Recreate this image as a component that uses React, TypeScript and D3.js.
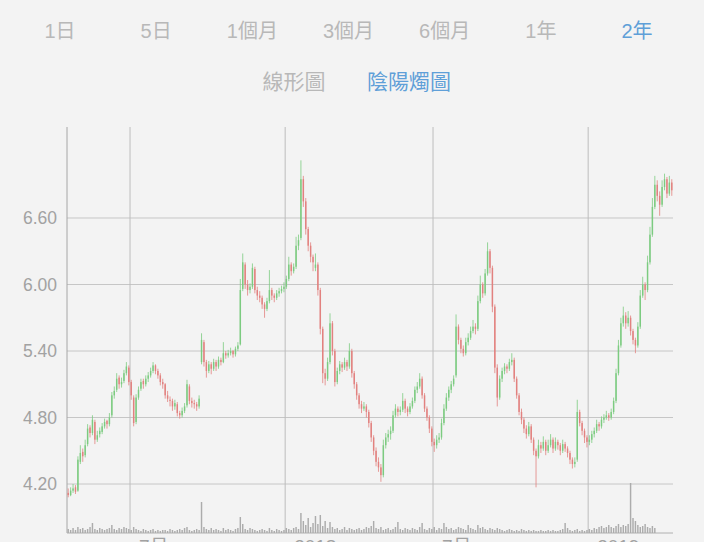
import * as d3 from 'd3';

const periods = ['1日', '5日', '1個月', '3個月', '6個月', '1年', '2年'];
const chartTypes = ['線形圖', '陰陽燭圖'];
const yTicks = [4.2, 4.8, 5.4, 6.0, 6.6];
const monthTicks = [
  { index: 26, label: '7月' },
  { index: 90, label: '2018' },
  { index: 151, label: '7月' },
  { index: 215, label: '2019' },
];

// [open, high, low, close]
const candles: number[][] = [
  [4.12, 4.16, 4.08, 4.10], [4.10, 4.17, 4.09, 4.14], [4.14, 4.20, 4.12, 4.16], [4.17, 4.19, 4.11, 4.13],
  [4.14, 4.45, 4.13, 4.42], [4.40, 4.55, 4.38, 4.48], [4.49, 4.52, 4.40, 4.45], [4.46, 4.60, 4.44, 4.55],
  [4.56, 4.74, 4.54, 4.70], [4.71, 4.73, 4.62, 4.66], [4.66, 4.82, 4.64, 4.78], [4.76, 4.78, 4.56, 4.60],
  [4.60, 4.68, 4.58, 4.64], [4.65, 4.71, 4.62, 4.68], [4.67, 4.75, 4.65, 4.72], [4.72, 4.79, 4.70, 4.76],
  [4.77, 4.78, 4.70, 4.74], [4.74, 4.84, 4.72, 4.80], [4.82, 5.03, 4.80, 5.00], [5.00, 5.08, 4.97, 5.04],
  [5.05, 5.20, 5.03, 5.15], [5.16, 5.18, 5.06, 5.10], [5.10, 5.16, 5.07, 5.12], [5.13, 5.23, 5.11, 5.20],
  [5.20, 5.30, 5.18, 5.26], [5.25, 5.27, 5.09, 5.12], [5.12, 5.14, 4.96, 5.00], [4.98, 5.00, 4.72, 4.75],
  [4.76, 5.01, 4.74, 4.98], [4.98, 5.08, 4.96, 5.05], [5.06, 5.15, 5.04, 5.12], [5.13, 5.15, 5.06, 5.10],
  [5.10, 5.18, 5.08, 5.15], [5.15, 5.21, 5.12, 5.18], [5.18, 5.25, 5.16, 5.22], [5.22, 5.30, 5.20, 5.27],
  [5.27, 5.28, 5.19, 5.22], [5.22, 5.24, 5.15, 5.18], [5.18, 5.20, 5.09, 5.12], [5.12, 5.15, 5.06, 5.10],
  [5.10, 5.11, 4.97, 5.00], [5.00, 5.04, 4.94, 4.97], [4.96, 4.99, 4.90, 4.95], [4.95, 4.97, 4.86, 4.90],
  [4.90, 4.96, 4.87, 4.93], [4.92, 4.94, 4.81, 4.84], [4.84, 4.86, 4.79, 4.82], [4.82, 4.89, 4.80, 4.86],
  [4.86, 4.93, 4.84, 4.90], [4.91, 5.14, 4.89, 5.10], [5.08, 5.10, 4.92, 4.95], [4.95, 4.98, 4.89, 4.93],
  [4.93, 4.96, 4.88, 4.92], [4.92, 4.94, 4.86, 4.90], [4.90, 5.00, 4.88, 4.97], [5.30, 5.56, 5.28, 5.50],
  [5.48, 5.50, 5.26, 5.30], [5.30, 5.32, 5.16, 5.22], [5.22, 5.31, 5.20, 5.28], [5.28, 5.30, 5.19, 5.24],
  [5.24, 5.33, 5.22, 5.30], [5.30, 5.32, 5.22, 5.26], [5.26, 5.35, 5.24, 5.32], [5.32, 5.34, 5.27, 5.30],
  [5.30, 5.48, 5.29, 5.38], [5.38, 5.40, 5.33, 5.36], [5.36, 5.41, 5.34, 5.38], [5.38, 5.43, 5.36, 5.40],
  [5.40, 5.41, 5.34, 5.37], [5.37, 5.44, 5.35, 5.42], [5.42, 5.48, 5.40, 5.45], [5.46, 6.05, 5.45, 5.95],
  [5.96, 6.28, 5.94, 6.20], [6.18, 6.20, 5.96, 6.00], [6.00, 6.04, 5.90, 5.95], [5.95, 6.01, 5.92, 5.98],
  [5.98, 6.19, 5.96, 6.15], [6.14, 6.16, 5.92, 5.95], [5.95, 5.98, 5.86, 5.90], [5.90, 5.94, 5.84, 5.88],
  [5.88, 5.90, 5.78, 5.82], [5.82, 5.84, 5.70, 5.78], [5.78, 5.88, 5.76, 5.85], [5.85, 6.13, 5.83, 5.95],
  [5.95, 5.97, 5.86, 5.90], [5.90, 5.92, 5.84, 5.88], [5.88, 5.95, 5.86, 5.92], [5.92, 5.97, 5.89, 5.94],
  [5.94, 5.99, 5.92, 5.96], [5.96, 6.02, 5.93, 5.98], [5.98, 6.08, 5.96, 6.05], [6.05, 6.25, 6.03, 6.18],
  [6.18, 6.20, 6.08, 6.12], [6.12, 6.19, 6.10, 6.16], [6.16, 6.43, 6.14, 6.35], [6.35, 6.45, 6.31, 6.40],
  [6.42, 7.12, 6.40, 6.95], [6.95, 6.98, 6.70, 6.75], [6.75, 6.78, 6.45, 6.50], [6.50, 6.52, 6.30, 6.35],
  [6.35, 6.38, 6.20, 6.25], [6.25, 6.27, 6.12, 6.20], [6.15, 6.28, 6.12, 6.18], [6.18, 6.20, 5.90, 5.95],
  [5.95, 5.97, 5.55, 5.60], [5.60, 5.62, 5.11, 5.20], [5.20, 5.24, 5.09, 5.15], [5.15, 5.34, 5.13, 5.30],
  [5.30, 5.74, 5.28, 5.65], [5.65, 5.67, 5.36, 5.40], [5.40, 5.42, 5.08, 5.12], [5.12, 5.25, 5.10, 5.22],
  [5.22, 5.31, 5.19, 5.28], [5.28, 5.30, 5.21, 5.25], [5.25, 5.34, 5.23, 5.30], [5.30, 5.32, 5.22, 5.26],
  [5.26, 5.47, 5.24, 5.40], [5.40, 5.42, 5.16, 5.20], [5.20, 5.22, 5.06, 5.10], [5.10, 5.12, 4.96, 5.00],
  [5.00, 5.02, 4.88, 4.92], [4.92, 4.95, 4.84, 4.88], [4.88, 4.94, 4.86, 4.90], [4.90, 4.92, 4.80, 4.85],
  [4.85, 4.87, 4.71, 4.75], [4.75, 4.77, 4.58, 4.62], [4.62, 4.64, 4.46, 4.50], [4.50, 4.53, 4.36, 4.40],
  [4.40, 4.44, 4.31, 4.35], [4.35, 4.38, 4.22, 4.28], [4.28, 4.60, 4.26, 4.55], [4.55, 4.66, 4.52, 4.62],
  [4.62, 4.69, 4.58, 4.65], [4.65, 4.72, 4.60, 4.68], [4.68, 4.86, 4.66, 4.82], [4.82, 4.92, 4.80, 4.88],
  [4.88, 4.90, 4.81, 4.85], [4.85, 4.90, 4.82, 4.87], [4.87, 5.02, 4.85, 4.95], [4.95, 4.97, 4.84, 4.88],
  [4.88, 4.90, 4.81, 4.85], [4.85, 4.93, 4.83, 4.90], [4.90, 4.98, 4.88, 4.95], [4.95, 5.08, 4.93, 5.05],
  [5.05, 5.12, 5.02, 5.08], [5.08, 5.20, 5.06, 5.15], [5.15, 5.17, 4.97, 5.00], [5.00, 5.02, 4.85, 4.88],
  [4.88, 4.90, 4.77, 4.80], [4.80, 4.82, 4.66, 4.70], [4.70, 4.72, 4.54, 4.58], [4.58, 4.61, 4.49, 4.55],
  [4.55, 4.64, 4.52, 4.60], [4.60, 4.66, 4.57, 4.62], [4.62, 4.79, 4.60, 4.75], [4.75, 4.92, 4.73, 4.88],
  [4.88, 5.02, 4.86, 4.98], [4.98, 5.08, 4.95, 5.05], [5.05, 5.13, 5.02, 5.10], [5.10, 5.18, 5.08, 5.15],
  [5.18, 5.73, 5.16, 5.62], [5.62, 5.64, 5.46, 5.50], [5.50, 5.52, 5.38, 5.42], [5.42, 5.45, 5.35, 5.38],
  [5.38, 5.52, 5.36, 5.48], [5.48, 5.56, 5.45, 5.52], [5.52, 5.62, 5.50, 5.58], [5.58, 5.68, 5.56, 5.62],
  [5.62, 5.65, 5.55, 5.60], [5.60, 5.90, 5.58, 5.85], [5.85, 6.08, 5.83, 6.00], [6.00, 6.02, 5.88, 5.92],
  [5.92, 6.14, 5.90, 6.10], [6.10, 6.38, 6.08, 6.30], [6.30, 6.32, 6.10, 6.15], [6.15, 6.17, 5.75, 5.80],
  [5.80, 5.82, 5.20, 5.25], [5.25, 5.28, 4.90, 4.98], [4.98, 5.18, 4.96, 5.15], [5.15, 5.25, 5.12, 5.22],
  [5.22, 5.29, 5.19, 5.26], [5.26, 5.28, 5.20, 5.24], [5.24, 5.33, 5.22, 5.30], [5.30, 5.38, 5.27, 5.32],
  [5.32, 5.34, 5.12, 5.15], [5.15, 5.17, 4.97, 5.00], [5.00, 5.02, 4.82, 4.85], [4.85, 4.88, 4.74, 4.78],
  [4.78, 4.80, 4.66, 4.70], [4.70, 4.73, 4.61, 4.65], [4.65, 4.76, 4.63, 4.72], [4.72, 4.74, 4.57, 4.60],
  [4.60, 4.62, 4.46, 4.50], [4.50, 4.52, 4.17, 4.45], [4.45, 4.60, 4.43, 4.55], [4.55, 4.58, 4.48, 4.52],
  [4.52, 4.63, 4.50, 4.58], [4.58, 4.60, 4.46, 4.50], [4.50, 4.60, 4.48, 4.55], [4.55, 4.65, 4.53, 4.60],
  [4.60, 4.62, 4.48, 4.52], [4.52, 4.62, 4.50, 4.58], [4.58, 4.60, 4.51, 4.55], [4.55, 4.57, 4.46, 4.50],
  [4.50, 4.60, 4.48, 4.56], [4.56, 4.58, 4.49, 4.52], [4.52, 4.54, 4.44, 4.48], [4.48, 4.50, 4.38, 4.42],
  [4.42, 4.44, 4.34, 4.38], [4.38, 4.44, 4.35, 4.40], [4.42, 4.96, 4.40, 4.85], [4.85, 4.87, 4.72, 4.75],
  [4.75, 4.77, 4.64, 4.68], [4.68, 4.70, 4.57, 4.62], [4.62, 4.64, 4.53, 4.58], [4.58, 4.64, 4.55, 4.60],
  [4.60, 4.68, 4.57, 4.65], [4.65, 4.71, 4.62, 4.68], [4.68, 4.78, 4.66, 4.74], [4.74, 4.76, 4.68, 4.72],
  [4.72, 4.81, 4.70, 4.78], [4.78, 4.83, 4.75, 4.80], [4.80, 4.86, 4.78, 4.82], [4.82, 4.84, 4.77, 4.80],
  [4.80, 4.88, 4.78, 4.85], [4.85, 4.98, 4.83, 4.95], [4.95, 5.24, 4.93, 5.20], [5.20, 5.50, 5.18, 5.45],
  [5.45, 5.70, 5.43, 5.65], [5.65, 5.80, 5.62, 5.72], [5.72, 5.75, 5.60, 5.65], [5.65, 5.76, 5.62, 5.70],
  [5.70, 5.72, 5.54, 5.58], [5.58, 5.60, 5.46, 5.50], [5.50, 5.52, 5.38, 5.45], [5.45, 5.66, 5.43, 5.62],
  [5.62, 5.95, 5.60, 5.90], [5.90, 6.07, 5.88, 6.00], [6.00, 6.02, 5.86, 5.95], [5.95, 6.26, 5.93, 6.20],
  [6.20, 6.52, 6.18, 6.45], [6.45, 6.78, 6.43, 6.70], [6.70, 6.98, 6.68, 6.90], [6.90, 6.94, 6.75, 6.80],
  [6.80, 6.84, 6.62, 6.72], [6.72, 6.94, 6.70, 6.88], [6.88, 7.00, 6.85, 6.95], [6.95, 6.97, 6.78, 6.82],
  [6.82, 6.98, 6.80, 6.92], [6.92, 6.95, 6.80, 6.85],
];

// volume, millions of shares
const volumes = [
  4, 3, 5, 3, 6, 4, 5, 3, 4, 6, 10, 4, 3, 5, 4, 3, 4, 5, 8, 4, 3, 5, 4, 6, 5, 4,
  3, 6, 4, 3, 2, 4, 3, 2, 3, 4, 2, 3, 2, 3, 3, 2, 4, 3, 2, 3, 4, 3, 5, 6, 3, 2, 3, 4,
  3, 31, 6, 4, 3, 5, 3, 4, 3, 2, 5, 3, 4, 3, 2, 4, 5, 16, 9, 4, 3, 5, 4, 3, 2, 3, 4,
  3, 2, 5, 3, 2, 4, 3, 2, 3, 5, 4, 3, 5, 6, 4, 20, 12, 8, 15, 6, 10, 17, 9, 18, 7,
  12, 5, 11, 6, 4, 5, 3, 4, 6, 3, 5, 4, 3, 4, 5, 3, 4, 6, 5, 7, 12, 5, 4, 6, 3, 4,
  5, 3, 4, 6, 11, 4, 3, 5, 4, 3, 5, 4, 3, 6, 10, 4, 3, 5, 4, 6, 3, 5, 4, 10, 6, 4,
  5, 3, 4, 6, 5, 4, 3, 8, 5, 4, 3, 8, 5, 6, 4, 3, 5, 4, 3, 5, 4, 3, 2, 3, 4, 3, 2,
  3, 2, 4, 3, 2, 3, 2, 3, 2, 2, 3, 2, 2, 3, 2, 3, 2, 2, 3, 4, 10, 5, 3, 2, 3, 4, 2,
  3, 2, 3, 4, 3, 5, 4, 6, 7, 5, 6, 8, 6, 5, 7, 9, 6, 8, 7, 9, 50, 15, 12, 8, 6, 7,
  9, 6, 5, 7, 5,
];

const W = 704;
const H = 542;
const left = 67;
const right = 673;
const top = 127;
const bottom = 533;
const font = '"Liberation Sans", "Noto Sans CJK TC", sans-serif';

export default function App() {
  const x = d3.scaleLinear().domain([0, candles.length]).range([left, right]);
  const y = d3.scaleLinear().domain([3.758, 7.421]).range([bottom, top]);
  const v = d3.scaleLinear().domain([0, 50]).range([bottom, bottom - 50]);
  const tabX = d3.scalePoint<string>().domain(periods).range([60, 637]);
  const typeX = d3.scalePoint<string>().domain(chartTypes).range([294, 409]);
  const step = x(1) - x(0);
  const bodyW = step * 0.6;

  return (
    <div style={{ position: 'absolute', left: 0, top: 0 }}>
      <svg width={W} height={H} style={{ display: 'block', fontFamily: font }}>
        <rect width={W} height={H} fill="#f3f3f3" />

        {periods.map((p) => (
          <text key={p} x={tabX(p)} y={38} fontSize={20} textAnchor="middle"
            fill={p === '2年' ? '#5f9fd8' : '#b8b8b8'}>{p}</text>
        ))}
        {chartTypes.map((t) => (
          <text key={t} x={typeX(t)} y={89} fontSize={21} textAnchor="middle"
            fill={t === '陰陽燭圖' ? '#5f9fd8' : '#b8b8b8'}>{t}</text>
        ))}

        {yTicks.map((t) => (
          <g key={t}>
            <line x1={left} x2={right} y1={y(t)} y2={y(t)} stroke="#c6c6c6" strokeWidth={1} />
            <text x={57} y={y(t)} dy="0.36em" fontSize={17.5} textAnchor="end" fill="#a2a2a2">
              {d3.format('.2f')(t)}
            </text>
          </g>
        ))}

        {monthTicks.map((m) => (
          <g key={m.index}>
            <line x1={x(m.index)} x2={x(m.index)} y1={top} y2={bottom} stroke="#bdbdbd" strokeWidth={1} />
            <text x={x(m.index) + 9} y={553} fontSize={19} fill="#a2a2a2">{m.label}</text>
          </g>
        ))}

        <line x1={left} x2={left} y1={top} y2={bottom} stroke="#a6a6a6" strokeWidth={1} />
        <line x1={left} x2={right} y1={bottom} y2={bottom} stroke="#b0b0b0" strokeWidth={1} />

        {volumes.map((vol, i) => (
          <rect key={'v' + i} x={x(i + 0.5) - bodyW / 2} y={v(vol)} width={bodyW}
            height={bottom - v(vol)} fill="#acacac" />
        ))}

        {candles.map(([o, h, l, c], i) => {
          const up = c >= o;
          const col = up ? '#7ccb80' : '#e2817f';
          const cx = x(i + 0.5);
          const yt = y(Math.max(o, c));
          const yb = y(Math.min(o, c));
          return (
            <g key={'c' + i}>
              <line x1={cx} x2={cx} y1={y(h)} y2={y(l)} stroke={col} strokeWidth={0.8} />
              <rect x={cx - bodyW / 2} y={yt} width={bodyW} height={Math.max(1, yb - yt)} fill={col} />
            </g>
          );
        })}
      </svg>
    </div>
  );
}
